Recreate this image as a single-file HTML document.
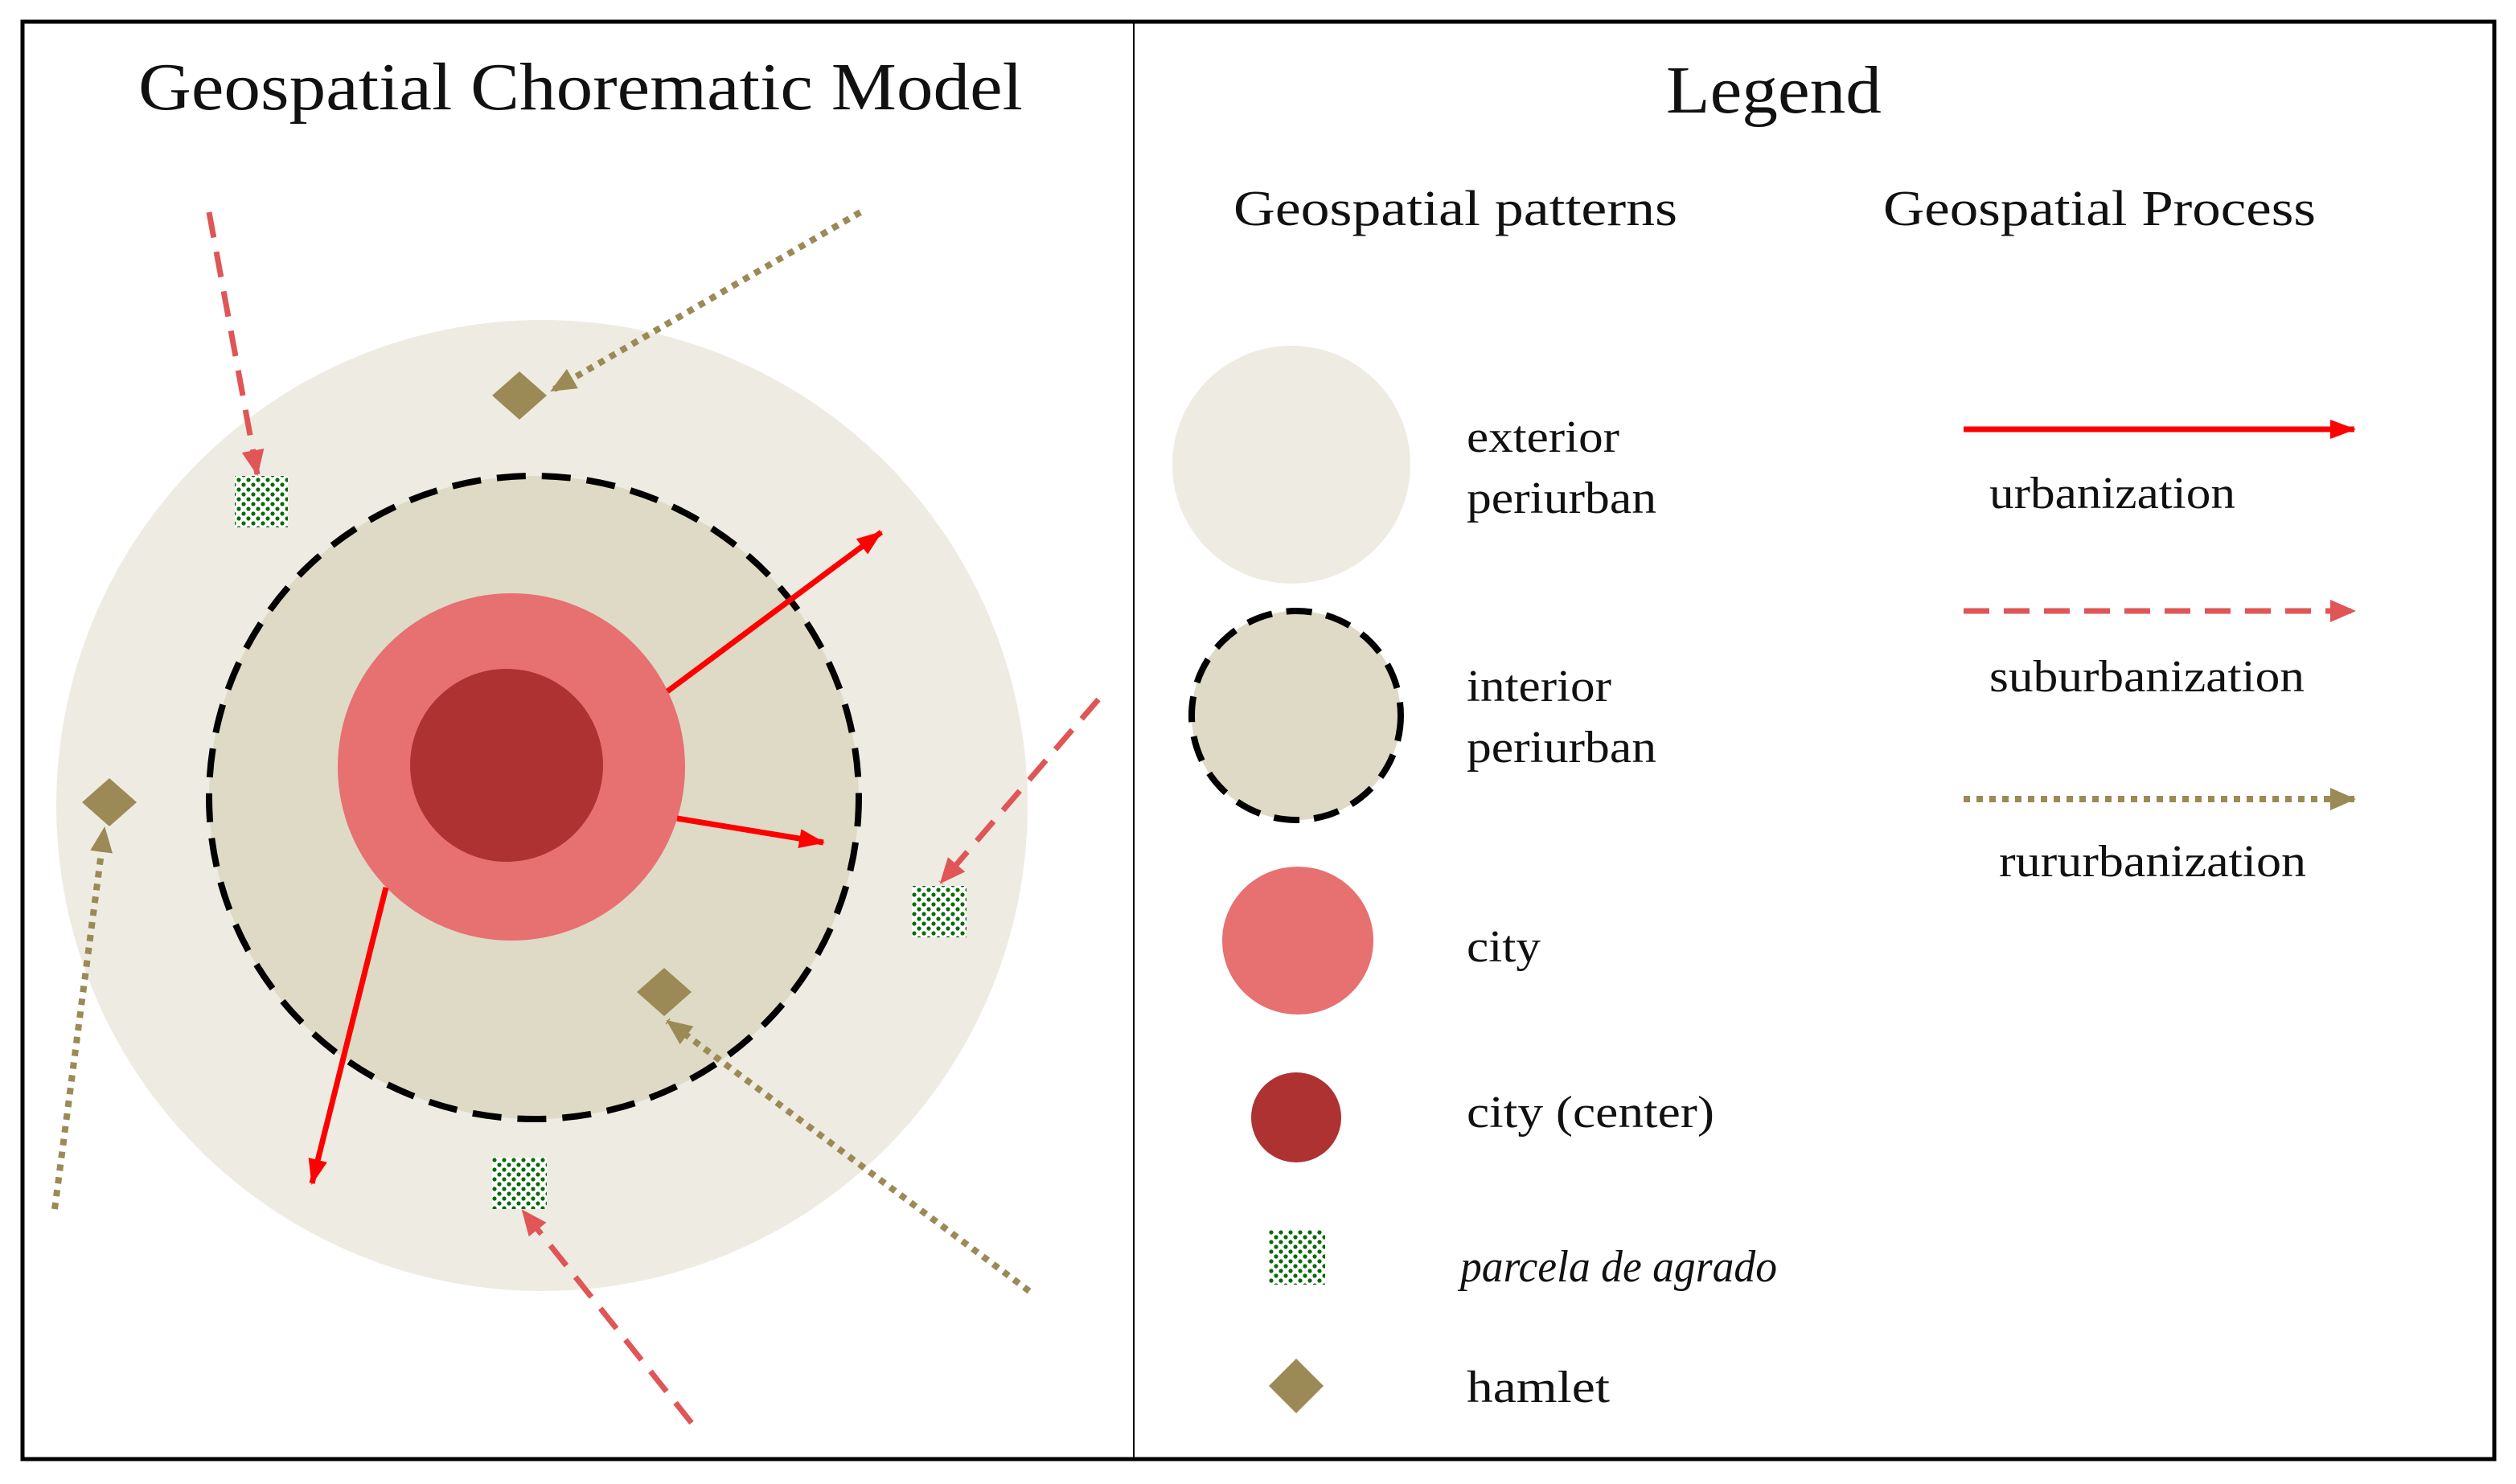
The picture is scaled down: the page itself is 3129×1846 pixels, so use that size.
<!DOCTYPE html>
<html><head><meta charset="utf-8"><style>
html,body{margin:0;padding:0;background:#fff;}
svg{display:block;}
text{font-family:"Liberation Serif",serif;fill:#111;}
</style></head><body>
<svg width="3129" height="1846" viewBox="0 0 1564.5 923" xmlns="http://www.w3.org/2000/svg">
<defs>
<pattern id="dots" width="6" height="6" patternUnits="userSpaceOnUse">
<rect width="6" height="6" fill="#fff"/>
<circle cx="1.5" cy="1.5" r="1.3" fill="#0a6a0a"/>
<circle cx="4.5" cy="4.5" r="1.3" fill="#0a6a0a"/>
</pattern>
<marker id="ar" markerWidth="16" markerHeight="12" refX="15" refY="6" orient="auto" markerUnits="userSpaceOnUse" viewBox="0 0 16 12"><path d="M0,0 L16,6 L0,12z" fill="#ff0000"/></marker>
<marker id="ad" markerWidth="16" markerHeight="14" refX="15" refY="7" orient="auto" viewBox="0 0 16 14" markerUnits="userSpaceOnUse"><path d="M0,0 L16,7 L0,14z" fill="#e05555"/></marker>
<marker id="ao" markerWidth="16" markerHeight="14" refX="15" refY="7" orient="auto" viewBox="0 0 16 14" markerUnits="userSpaceOnUse"><path d="M0,0 L16,7 L0,14z" fill="#9b8a55"/></marker>
</defs>
<rect x="14" y="13.5" width="1537" height="894" fill="#fff" stroke="#000" stroke-width="2.5"/>
<line x1="705" y1="13" x2="705" y2="908" stroke="#000" stroke-width="1"/>
<text x="86" y="68" font-size="42" textLength="550" lengthAdjust="spacingAndGlyphs">Geospatial Chorematic Model</text>
<text x="1036" y="70" font-size="42" textLength="134" lengthAdjust="spacingAndGlyphs">Legend</text>
<text x="767" y="140" font-size="31" textLength="276" lengthAdjust="spacingAndGlyphs">Geospatial patterns</text>
<text x="1171" y="140" font-size="31" textLength="269" lengthAdjust="spacingAndGlyphs">Geospatial Process</text>

<ellipse cx="337" cy="501" rx="302" ry="302" fill="#eeece2"/>
<ellipse cx="332" cy="496" rx="202" ry="200" fill="#dedac5" stroke="#000" stroke-width="4" stroke-dasharray="18,10"/>
<circle cx="318" cy="477" r="108" fill="#e77070"/>
<circle cx="315" cy="476" r="60" fill="#ae3232"/>
<g stroke="#ff0000" stroke-width="3.5" fill="none">
<line x1="415" y1="430" x2="548" y2="331" marker-end="url(#ar)"/>
<line x1="421" y1="509" x2="512" y2="524" marker-end="url(#ar)"/>
<line x1="240" y1="552" x2="194" y2="736" marker-end="url(#ar)"/>
</g>
<g stroke="#e05555" stroke-width="3.5" fill="none" stroke-dasharray="16,9">
<line x1="130" y1="132" x2="160" y2="295" marker-end="url(#ad)"/>
<line x1="683" y1="435" x2="585" y2="549" marker-end="url(#ad)"/>
<line x1="430" y1="885" x2="325" y2="753" marker-end="url(#ad)"/>
</g>
<g stroke="#9b8a55" stroke-width="4" fill="none" stroke-dasharray="4,4">
<line x1="535" y1="132" x2="343" y2="243" marker-end="url(#ao)"/>
<line x1="34" y1="752" x2="65" y2="515" marker-end="url(#ao)"/>
<line x1="640" y1="803" x2="415" y2="635" marker-end="url(#ao)"/>
</g>
<g fill="#9b8a55">
<path d="M323,231 L340,246 L323,261 L306,246z"/>
<path d="M68,484 L85,499 L68,514 L51,499z"/>
<path d="M413,602 L430,617 L413,632 L396,617z"/>
</g>
<g fill="url(#dots)">
<rect x="146" y="296" width="33" height="32"/>
<rect x="567" y="551" width="34" height="32"/>
<rect x="306" y="720" width="34" height="32"/>
</g>

<circle cx="803" cy="289" r="74" fill="#eeece2"/>
<circle cx="806" cy="445" r="65" fill="#dedac5" stroke="#000" stroke-width="4" stroke-dasharray="16,9"/>
<ellipse cx="807" cy="585" rx="47" ry="46" fill="#e77070"/>
<circle cx="806" cy="695" r="28" fill="#ae3232"/>
<rect x="789" y="765" width="35" height="34" fill="url(#dots)"/>
<path d="M806,845 L823,862 L806,879 L789,862z" fill="#9b8a55"/>
<g font-size="28">
<text x="912" y="281" textLength="95" lengthAdjust="spacingAndGlyphs">exterior</text>
<text x="912" y="319" textLength="118" lengthAdjust="spacingAndGlyphs">periurban</text>
<text x="912" y="436" textLength="90" lengthAdjust="spacingAndGlyphs">interior</text>
<text x="912" y="474" textLength="118" lengthAdjust="spacingAndGlyphs">periurban</text>
<text x="912" y="598" textLength="46" lengthAdjust="spacingAndGlyphs">city</text>
<text x="912" y="701" textLength="154" lengthAdjust="spacingAndGlyphs">city (center)</text>
<text x="908" y="797" font-style="italic" textLength="197" lengthAdjust="spacingAndGlyphs">parcela de agrado</text>
<text x="912" y="872" textLength="89" lengthAdjust="spacingAndGlyphs">hamlet</text>
<text x="1237" y="316" textLength="153" lengthAdjust="spacingAndGlyphs">urbanization</text>
<text x="1237" y="430" textLength="196" lengthAdjust="spacingAndGlyphs">suburbanization</text>
<text x="1243" y="545" textLength="191" lengthAdjust="spacingAndGlyphs">rururbanization</text>
</g>
<line x1="1221" y1="267" x2="1464" y2="267" stroke="#ff0000" stroke-width="3.5" marker-end="url(#ar)"/>
<line x1="1221" y1="380" x2="1464" y2="380" stroke="#e05555" stroke-width="3.5" stroke-dasharray="16,9" marker-end="url(#ad)"/>
<line x1="1221" y1="497" x2="1464" y2="497" stroke="#9b8a55" stroke-width="4" stroke-dasharray="4,4" marker-end="url(#ao)"/>
</svg>
</body></html>
